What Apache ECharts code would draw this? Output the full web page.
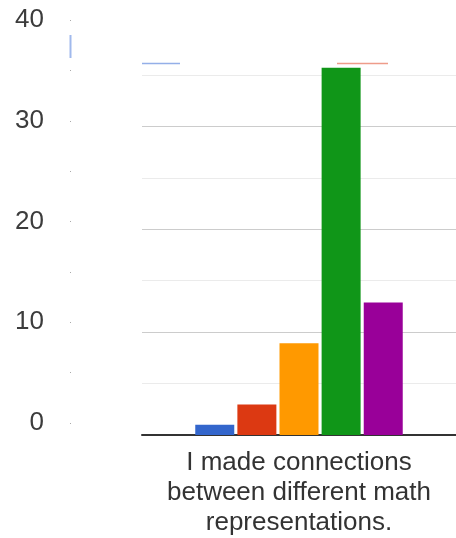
<!DOCTYPE html>
<html>
<head>
<meta charset="utf-8">
<script src="https://cdn.jsdelivr.net/npm/echarts@6/dist/echarts.min.js"></script>
<style>html,body{margin:0;padding:0;background:#fff;}#c{width:456px;height:538px;}</style>
</head>
<body>
<div id="c"></div>
<script>
var categories = ['I made connections\nbetween different math\nrepresentations.'];
var seriesNames = ['Strongly disagree', 'Disagree', 'Neutral', 'Agree', 'Strongly agree'];
var seriesColors = ['#3366cc', '#dc3912', '#ff9900', '#109618', '#990099'];
var seriesValues = [[1], [3], [9], [36], [13]];
var tickLabels = ['0', '10', '20', '30', '40'];

var chart = echarts.init(document.getElementById('c'), null, {renderer: 'canvas'});
var series = seriesNames.map(function (n, i) {
  return {
    name: n, type: 'bar', xAxisIndex: 2, yAxisIndex: 2,
    data: seriesValues[i], barWidth: 39, barGap: '8%',
    itemStyle: {color: seriesColors[i]},
    emphasis: {disabled: true}
  };
});
series.push({type: 'line', xAxisIndex: 1, yAxisIndex: 1, data: [], silent: true});
var major = '#cccccc', minor = '#ebebeb';
chart.setOption({
  animation: false,
  textStyle: {fontFamily: 'Liberation Sans, Arial, sans-serif'},
  grid: [
    {left: 142, right: 0, top: 23.6, bottom: 103},
    {left: 70, width: 1, top: 20, height: 403},
    {left: 142, right: 0, top: 27, bottom: 103}
  ],
  xAxis: [
    {type: 'category', gridIndex: 0, data: categories,
      axisLine: {lineStyle: {color: '#333', width: 2}},
      axisTick: {show: false},
      axisLabel: {color: '#333333', fontSize: 26, lineHeight: 30, margin: 13, interval: 0}},
    {type: 'value', gridIndex: 1, show: false, min: 0, max: 1},
    {type: 'category', gridIndex: 2, data: categories, show: false}
  ],
  yAxis: [
    {type: 'value', gridIndex: 0, min: 0, max: 40, interval: 5,
      axisLine: {show: false}, axisTick: {show: false}, axisLabel: {show: false},
      splitLine: {lineStyle: {color: [major, minor, major, minor, major, minor, major, minor, 'rgba(0,0,0,0)'], width: 1}}},
    {type: 'value', gridIndex: 1, min: 0, max: 40, interval: 5,
      axisLine: {show: false}, axisTick: {show: false},
      axisLabel: {color: '#3c3c3c', fontSize: 26, margin: 26,
        formatter: function (v) { return tickLabels.indexOf(String(v)) >= 0 ? String(v) : ''; }},
      splitLine: {lineStyle: {color: '#aaaaaa', width: 1}}},
    {type: 'value', gridIndex: 2, min: 0, max: 40, show: false, splitLine: {show: false}}
  ],
  graphic: [
    {type: 'line', shape: {x1: 70.5, y1: 35, x2: 70.5, y2: 58}, style: {stroke: '#a0b9ec', lineWidth: 2}, silent: true},
    {type: 'line', shape: {x1: 142, y1: 63.5, x2: 180, y2: 63.5}, style: {stroke: '#94afe8', lineWidth: 1.5}, silent: true},
    {type: 'line', shape: {x1: 337, y1: 63.5, x2: 388, y2: 63.5}, style: {stroke: '#ee9c8a', lineWidth: 1.5}, silent: true}
  ],
  series: series
});
</script>
</body>
</html>
